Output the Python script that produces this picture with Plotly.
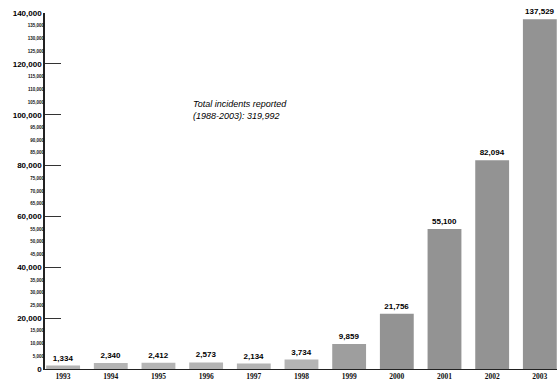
import plotly.graph_objects as go

# Incidents reported per year
years = ["1993", "1994", "1995", "1996", "1997", "1998",
         "1999", "2000", "2001", "2002", "2003"]
incidents = [1334, 2340, 2412, 2573, 2134, 3734,
             9859, 21756, 55100, 82094, 137529]

# Y-axis labels: large every 20,000, small in between every 5,000
major_ticks = [0, 20000, 40000, 60000, 80000, 100000, 120000, 140000]
major_text = ["0", "20,000", "40,000", "60,000", "80,000",
              "100,000", "120,000", "140,000"]
minor_ticks = [v for v in range(5000, 140000, 5000) if v % 20000]
minor_text = [f"{v:,}" for v in minor_ticks]

note = "Total incidents reported<br>(1988-2003): 319,992"

bar_colors = ["#cfcfcf" if v < 5000 else "#b4b4b4" if v < 15000 else "#a6a6a6"
              for v in incidents]

sans = "Liberation Sans Narrow, Liberation Sans, sans-serif"

fig = go.Figure()
fig.add_trace(go.Bar(
    x=years, y=incidents,
    marker=dict(color=bar_colors, line=dict(width=0),
                pattern=dict(shape=".", fgcolor="#6a6a6a", size=2, solidity=0.45)),
    texttemplate="%{y:,}", textposition="outside",
    textfont=dict(family=sans, size=8, color="#000", weight=700),
    cliponaxis=False,
))

fig.add_annotation(
    x=2.68, y=101800, xref="x", yref="y", text=note, showarrow=False,
    xanchor="left", yanchor="middle", align="left",
    font=dict(family="Liberation Sans, sans-serif", size=9, color="#000",
              style="italic"),
)

# small in-between labels on an overlaid axis
fig.add_trace(go.Scatter(x=[years[0]], y=[0], yaxis="y2", mode="markers",
                         marker=dict(opacity=0), hoverinfo="skip", showlegend=False))

fig.update_layout(
    width=557, height=383,
    margin=dict(l=45, r=0, t=13, b=14),
    paper_bgcolor="white", plot_bgcolor="white",
    bargap=0.29, showlegend=False,
    xaxis=dict(
        type="category", range=[-0.38, 10.36],
        showline=True, linecolor="#222", linewidth=1,
        ticks="", showgrid=False,
        tickfont=dict(family="Liberation Serif, serif", size=7.5, color="#111",
                      weight=700),
    ),
    yaxis=dict(
        range=[0, 140000], tickvals=major_ticks, ticktext=major_text,
        showline=True, linecolor="#222", linewidth=1.5,
        ticks="inside", ticklen=16, tickwidth=1, tickcolor="#333",
        showgrid=False, zeroline=False,
        tickfont=dict(family=sans, size=8, color="#000", weight=700),
    ),
    yaxis2=dict(
        range=[0, 140000], overlaying="y", side="left", anchor="x",
        tickvals=minor_ticks, ticktext=minor_text,
        showline=False, showgrid=False, zeroline=False, ticks="",
        tickfont=dict(family=sans, size=4.5, color="#111", weight=700),
    ),
)

fig.write_html("out.html")
